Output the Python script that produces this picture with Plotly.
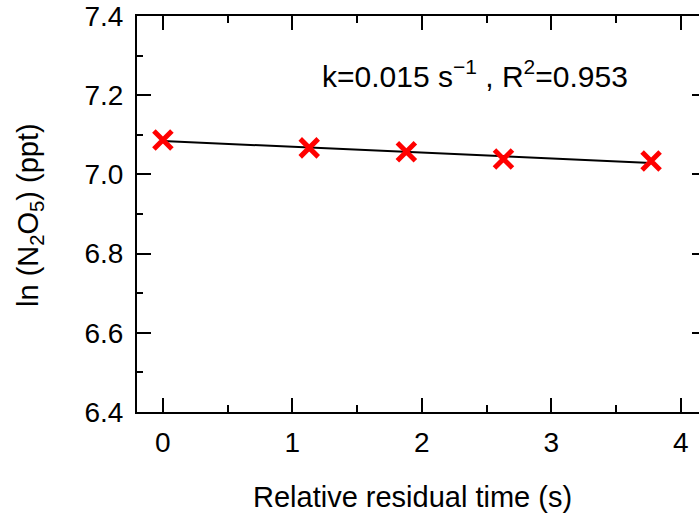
import numpy as np
import plotly.graph_objects as go

# Data
time_s = [0.0, 1.13, 1.88, 2.63, 3.77]
ln_n2o5 = [7.087, 7.067, 7.057, 7.039, 7.034]
x_ticks = [0, 1, 2, 3, 4]
y_ticks = [6.4, 6.6, 6.8, 7.0, 7.2, 7.4]
y_tick_text = ["6.4", "6.6", "6.8", "7.0", "7.2", "7.4"]
fit_label = "k=0.015 s<sup>\u22121</sup> , R<sup>2</sup>=0.953"

coef = np.polyfit(time_s, ln_n2o5, 1)
fit_x = [time_s[0], time_s[-1]]
fit_y = list(np.polyval(coef, fit_x))

FONT = "Liberation Sans, Arial, Helvetica, sans-serif"

fig = go.Figure()
fig.add_trace(go.Scatter(x=fit_x, y=fit_y, mode="lines",
                         line=dict(color="black", width=2), showlegend=False))
fig.add_trace(go.Scatter(x=time_s, y=ln_n2o5, mode="markers",
                         marker=dict(symbol="x-thin", size=18,
                                     line=dict(color="#ff0000", width=5)),
                         showlegend=False))
# invisible helper trace so the right-side tick axis is drawn
fig.add_trace(go.Scatter(x=[None], y=[None], yaxis="y2", showlegend=False,
                         hoverinfo="skip"))

fig.update_layout(
    width=699, height=516,
    margin=dict(l=137, r=0, t=16, b=104),
    plot_bgcolor="white", paper_bgcolor="white",
    font=dict(family=FONT, size=28, color="black"),
    xaxis=dict(range=[-0.2, 4.14], tickvals=x_ticks, ticks="inside",
               ticklen=14, tickwidth=2, tickcolor="black",
               showline=True, linewidth=2, linecolor="black", mirror="ticks",
               showgrid=False, zeroline=False, ticklabelstandoff=4,
               tickfont=dict(size=28),
               minor=dict(dtick=0.5, ticks="inside", ticklen=7, tickwidth=2,
                          tickcolor="black", showgrid=False)),
    yaxis=dict(range=[6.4, 7.4], tickvals=y_ticks, ticktext=y_tick_text,
               ticks="inside", ticklen=14, tickwidth=2, tickcolor="black",
               showline=True, linewidth=2, linecolor="black", mirror=False,
               showgrid=False, zeroline=False, ticklabelstandoff=6,
               tickfont=dict(size=28),
               minor=dict(dtick=0.1, ticks="inside", ticklen=6, tickwidth=2,
                          tickcolor="black", showgrid=False)),
    yaxis2=dict(range=[6.4, 7.4], overlaying="y", side="right", anchor="free",
                position=1, tickvals=y_ticks, ticks="inside", ticklen=7,
                tickwidth=2, tickcolor="black", showticklabels=False,
                showline=False, showgrid=False, zeroline=False),
    annotations=[
        dict(text=fit_label, xref="paper", yref="paper", x=(475 - 137) / 562,
             y=(412 - 74) / 396, xanchor="center", yanchor="middle",
             showarrow=False, font=dict(size=30)),
        dict(text="Relative residual time (s)", xref="paper", yref="paper",
             x=(412 - 137) / 562, y=-(497 - 412) / 396, xanchor="center",
             yanchor="middle", showarrow=False, font=dict(size=29)),
        dict(text="ln (N<sub>2</sub>O<sub>5</sub>) (ppt)", xref="paper",
             yref="paper", x=-(137 - 30) / 562, y=(412 - 215) / 396,
             xanchor="center", yanchor="middle", textangle=-90,
             showarrow=False, font=dict(size=29)),
    ],
)

fig.write_html("out.html")
